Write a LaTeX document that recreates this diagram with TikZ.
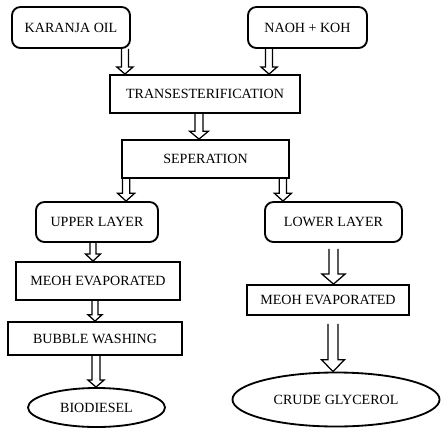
\documentclass[tikz,border=0pt]{standalone}
\usepackage{fontspec}
\setmainfont{Liberation Serif}
\usetikzlibrary{calc,shapes.geometric}

\tikzset{
    box/.style={draw, line width=1.3pt, inner sep=0pt, align=center,
        font=\fontsize{10}{12}\selectfont},
    rbox/.style={box, rounded corners=6pt},
    oval/.style={box, ellipse},
    arrowline/.style={draw, line width=0.9pt, line join=miter}
}

% hollow block arrow: from, to, shaft half width, head half width, head length
\newcommand{\hollowarrow}[5]{%
    \draw[arrowline] let \p1=(#1), \p2=(#2) in
        (\x1-#3,\y1) -- (\x1-#3,\y2+#5) -- (\x1-#4,\y2+#5) -- (\x1,\y2)
        -- (\x1+#4,\y2+#5) -- (\x1+#3,\y2+#5) -- (\x1+#3,\y1);
}

\begin{document}
\begin{tikzpicture}[x=0.025cm, y=-0.025cm]
\useasboundingbox (0,0) rectangle (441,429);

\node[rbox, minimum width=2.95cm, minimum height=1.025cm] (karanja) at (71,27.5) {KARANJA OIL};
\node[rbox, minimum width=2.975cm, minimum height=1.025cm] (naoh) at (307.5,27.5) {NAOH + KOH};
\node[box, minimum width=4.75cm, minimum height=0.95cm] (trans) at (205,94) {TRANSESTERIFICATION};
\node[box, minimum width=4.175cm, minimum height=0.95cm] (sep) at (205.5,159) {SEPERATION};
\node[rbox, minimum width=3.05cm, minimum height=1cm] (upper) at (97,222) {UPPER LAYER};
\node[rbox, minimum width=3.425cm, minimum height=1cm] (lower) at (333.5,222) {LOWER LAYER};
\node[box, minimum width=4.1cm, minimum height=0.95cm] (meohL) at (98,281) {MEOH EVAPORATED};
\node[box, minimum width=4.35cm, minimum height=0.825cm] (washing) at (95,338.5) {BUBBLE WASHING};
\node[oval, minimum width=3.425cm, minimum height=0.975cm] (biodiesel) at (96.5,407.5) {BIODIESEL};
\node[box, minimum width=4.05cm, minimum height=0.75cm] (meohR) at (328,300) {MEOH EVAPORATED};
\node[oval, minimum width=5.175cm, minimum height=1.35cm] (glycerol) at (336,399.5) {CRUDE GLYCEROL};

% arrows
\hollowarrow{$(karanja.south east)+(-6,0)$}{trans.north}{2.5pt}{5.7pt}{5pt}
\hollowarrow{$(naoh.south west)+(22,0)$}{trans.north}{2.5pt}{5.7pt}{5pt}
\hollowarrow{$(trans.south)+(-6,0)$}{sep.north}{2.8pt}{6.6pt}{5.5pt}
\hollowarrow{$(sep.south west)+(5,0)$}{upper.north}{2.6pt}{6pt}{5.5pt}
\hollowarrow{$(sep.south east)+(-7,0)$}{lower.north}{2.6pt}{6pt}{5.5pt}
\hollowarrow{$(upper.south)+(-4,0)$}{meohL.north}{2.2pt}{5.3pt}{5pt}
\hollowarrow{$(lower.south)+(0,6)$}{meohR.north}{3.2pt}{8.2pt}{7.1pt}
\hollowarrow{$(meohL.south)+(-3,0)$}{washing.north}{2.2pt}{5pt}{4.5pt}
\hollowarrow{$(washing.south)+(1,0)$}{biodiesel.north}{2.8pt}{5.7pt}{5pt}
\hollowarrow{$(meohR.south)+(5,8)$}{glycerol.north}{3.6pt}{8.2pt}{8.5pt}
\end{tikzpicture}
\end{document}
